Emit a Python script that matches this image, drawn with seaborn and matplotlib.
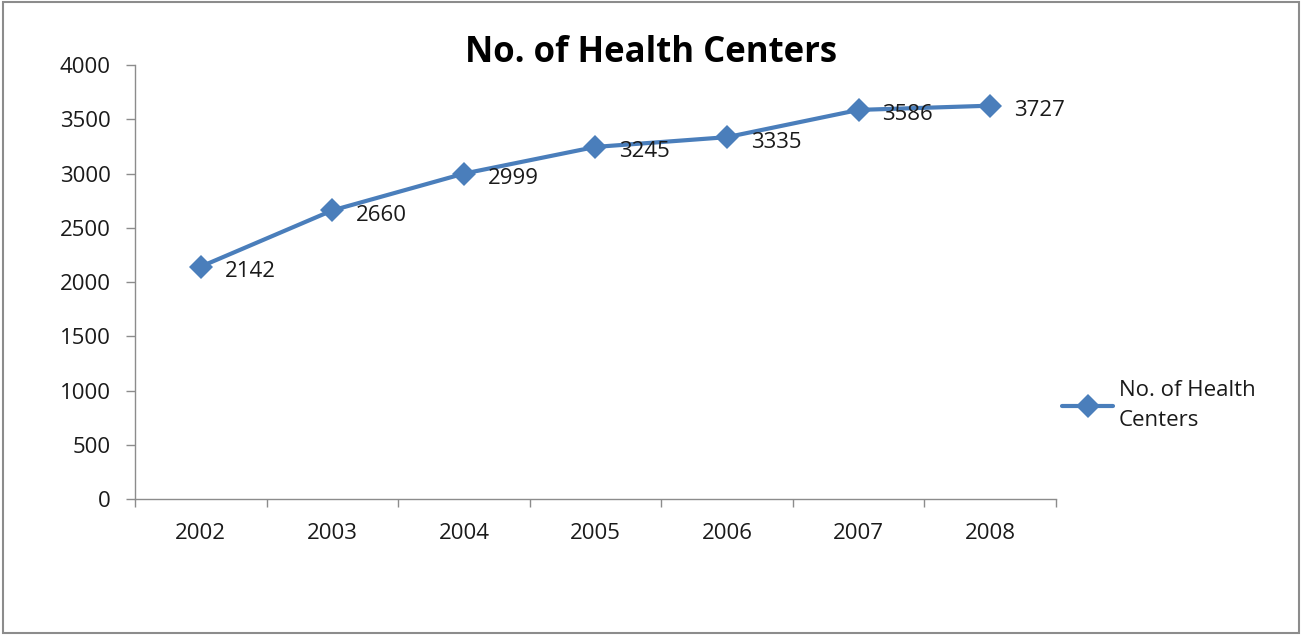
import matplotlib
matplotlib.use("Agg")
import matplotlib.pyplot as plt
import seaborn as sns
import pandas as pd
from matplotlib.patches import Rectangle

# Data
years = ["2002", "2003", "2004", "2005", "2006", "2007", "2008"]
centers = [2142, 2660, 2999, 3245, 3335, 3586, 3625]   # plotted positions
labels = ["2142", "2660", "2999", "3245", "3335", "3586", "3727"]  # data labels as printed
series_name = "No. of Health Centers"

line_color = "#4a7ebb"
axis_grey = "#8c8c8c"
text_color = "#1a1a1a"

sns.set_style("white")
plt.rcParams['font.family'] = ['Open Sans', 'DejaVu Sans']

df = pd.DataFrame({"year": years, "centers": centers})

fig = plt.figure(figsize=(13.02, 6.36), dpi=100)
ax = fig.add_axes([0.1037, 0.2154, 0.811 - 0.1037, 0.8978 - 0.2154])

sns.lineplot(data=df, x="year", y="centers", ax=ax, color=line_color,
             linewidth=3.0, marker="D", markersize=12, markeredgewidth=0,
             label="No. of Health\nCenters", legend=False)

# data labels to the right of each point
for i, (v, lab) in enumerate(zip(centers, labels)):
    ax.annotate(lab, (i, v), xytext=(17, -3.5), textcoords="offset points",
                ha="left", va="center", fontsize=16, color=text_color)

# axes styling (Excel-like)
ax.set_ylim(0, 4000)
ax.set_yticks(range(0, 4001, 500))
ax.set_xlim(-0.5, len(years) - 0.5)
ax.set_xticks([i - 0.5 for i in range(len(years) + 1)])
ax.set_xticks(range(len(years)), minor=True)
ax.set_xticklabels([])
ax.set_xticklabels(years, minor=True)
ax.tick_params(axis="x", which="major", bottom=True, direction="out", length=6,
               color=axis_grey, width=1)
ax.tick_params(axis="x", which="minor", bottom=True, length=0, labelsize=16, pad=17,
               labelcolor=text_color)
ax.tick_params(axis="y", left=True, direction="out", length=6.5, color=axis_grey, width=1,
               labelsize=16, pad=11, labelcolor=text_color)
ax.set_xlabel("")
ax.set_ylabel("")
for side in ["top", "right"]:
    ax.spines[side].set_visible(False)
for side in ["left", "bottom"]:
    ax.spines[side].set_color(axis_grey)
    ax.spines[side].set_linewidth(1)
ax.grid(False)

fig.text(0.5, 0.917, series_name, ha="center", va="center",
         fontsize=25, fontweight="bold", color="black")

handles, lbls = ax.get_legend_handles_labels()
leg = fig.legend(handles, lbls, loc="center left", bbox_to_anchor=(0.8157, 0.362),
                 frameon=False, fontsize=16, handlelength=2.3, handletextpad=0.25,
                 borderpad=0, borderaxespad=0, labelcolor=text_color)
for t in leg.get_texts():
    t.set_linespacing(1.55)

# outer chart border
fig.patches.append(Rectangle((0.002, 0.004), 0.996, 0.993, transform=fig.transFigure,
                             fill=False, edgecolor=axis_grey, linewidth=1.5))

fig.savefig("out.png", dpi=100)
